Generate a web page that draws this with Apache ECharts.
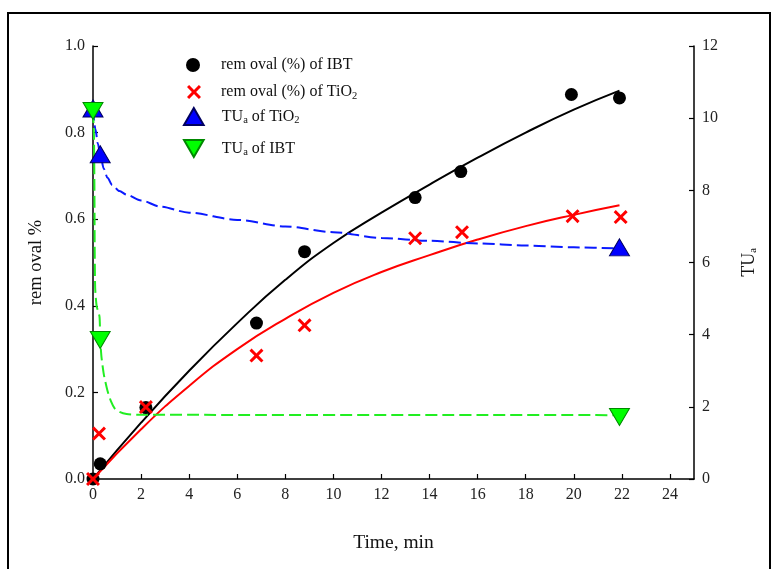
<!DOCTYPE html>
<html><head><meta charset="utf-8">
<script src="https://cdn.jsdelivr.net/npm/echarts@6/dist/echarts.min.js"></script>
<style>html,body{margin:0;padding:0;background:#fff}#c{width:772px;height:569px}</style>
</head><body><div id="c"></div>
<script>
// measured points
const ibtTime = [0, 0.3, 2.2, 6.8, 8.8, 13.4, 15.3, 19.9, 21.9];
const ibtRemoval = [0, 0.035, 0.165, 0.36, 0.525, 0.65, 0.71, 0.888, 0.88];
const tioTime = [0, 0.25, 2.2, 6.8, 8.8, 13.4, 15.35, 19.95, 21.95];
const tioRemoval = [0, 0.105, 0.166, 0.285, 0.355, 0.556, 0.57, 0.607, 0.605];
const tuTime = [0, 0.3, 21.9];
const tuTiO2 = [10.27, 9.0, 6.42];
const tuIBT = [10.2, 3.85, 1.72];
// fitted curves
const fitIbtX = [0, 2, 4, 6, 8, 10, 12, 14, 16, 18, 20, 21.9];
const fitIbtY = [0, 0.13, 0.25, 0.36, 0.46, 0.545, 0.615, 0.68, 0.742, 0.80, 0.853, 0.897];
const fitTioX = [0, 2, 4, 6, 8, 10, 12, 14, 16, 18, 20, 21.9];
const fitTioY = [0, 0.115, 0.215, 0.30, 0.37, 0.43, 0.478, 0.517, 0.553, 0.584, 0.61, 0.632];
const fitTuTiO2X = [0, 0.1, 0.2, 0.3, 0.45, 0.6, 0.8, 1.1, 1.4, 2, 2.8, 4, 6, 8, 10, 12, 14, 16, 18, 20, 21.9];
const fitTuTiO2Y = [10.27, 9.7, 9.3, 9.0, 8.6, 8.35, 8.15, 7.98, 7.88, 7.72, 7.55, 7.38, 7.18, 7.0, 6.84, 6.68, 6.6, 6.53, 6.47, 6.42, 6.39];
const fitTuIbtX = [0, 0.04, 0.06, 0.07, 0.09, 0.15, 0.27, 0.3, 0.35, 0.45, 0.6, 0.75, 0.9, 1.1, 1.4, 2, 21.9];
const fitTuIbtY = [10.2, 9.5, 8.0, 6.5, 5.3, 4.8, 4.5, 3.9, 3.4, 2.9, 2.45, 2.15, 1.96, 1.86, 1.8, 1.78, 1.77];
const xTickLabels = ['0','2','4','6','8','10','12','14','16','18','20','22','24'];

const zip = (a, b) => a.map((v, i) => [v, b[i]]);
const FF = '"Liberation Serif", "Times New Roman", serif';
const SYM_X = 'path://M0,1.5L1.5,0L5,3.5L8.5,0L10,1.5L6.5,5L10,8.5L8.5,10L5,6.5L1.5,10L0,8.5L3.5,5Z';
const SYM_UP = 'path://M5,0L10,8.66L0,8.66Z';
const SYM_DN = 'path://M0,0L10,0L5,8.66Z';
const subStyle = {fontFamily: FF, fontSize: 10.5, padding: [8, 0, 0, 0], color: '#111'};
const mainTxt = {fontFamily: FF, fontSize: 16, color: '#111'};

function mkLegend(name, icon, left, top, w, h, sp, label) {
  return {
    data: [{name: name, icon: icon}], left: left, top: top, orient: 'vertical', padding: 0,
    itemWidth: w, itemHeight: h, selectedMode: false,
    formatter: () => label,
    textStyle: Object.assign({}, mainTxt, {rich: {sp: {width: sp, fontFamily: FF, fontSize: 16}, s: subStyle, t: mainTxt}})
  };
}

const chart = echarts.init(document.getElementById('c'), null, {renderer: 'canvas'});
const axisCommon = {
  axisLine: {show: true, lineStyle: {color: '#000', width: 1.5}},
  axisTick: {show: true, inside: true, length: 5, lineStyle: {color: '#000', width: 1.2}},
  splitLine: {show: false},
  axisLabel: {fontFamily: FF, fontSize: 16, color: '#222', margin: 8}
};
chart.setOption({
  animation: false,
  backgroundColor: '#fff',
  graphic: [{type: 'rect', silent: true, shape: {x: 8, y: 13, width: 762, height: 600},
    style: {fill: null, stroke: '#000', lineWidth: 2}}],
  grid: {left: 93, right: 78, top: 46, bottom: 90},
  legend: [
    mkLegend('ibt', 'circle', 186, 57, 14, 14, 16, '{sp|}{t|rem oval (%) of IBT}'),
    mkLegend('tio', SYM_X, 187, 84, 14, 14, 15, '{sp|}{t|rem oval (%) of TiO}{s|2}'),
    mkLegend('tuTio', SYM_UP, 183, 107, 20, 17, 13, '{sp|}{t|TU}{s|a}{t| of TiO}{s|2}'),
    mkLegend('tuIbt', SYM_DN, 183, 139, 20, 17, 13, '{sp|}{t|TU}{s|a}{t| of IBT}')
  ],
  xAxis: Object.assign({}, axisCommon, {
    type: 'value', min: 0, max: 25, interval: 2,
    axisLabel: Object.assign({}, axisCommon.axisLabel, {showMaxLabel: false,
      formatter: v => { const i = Math.round(v / 2); return (v % 2 === 0 && xTickLabels[i] !== undefined) ? xTickLabels[i] : ''; }}),
    name: 'Time, min', nameLocation: 'middle', nameGap: 54,
    nameTextStyle: {fontFamily: FF, fontSize: 19.5, color: '#111'}
  }),
  yAxis: [
    Object.assign({}, axisCommon, {
      type: 'value', min: 0, max: 1, interval: 0.2, position: 'left',
      axisLabel: Object.assign({}, axisCommon.axisLabel, {formatter: v => v.toFixed(1)}),
      name: 'rem oval %', nameLocation: 'middle', nameRotate: 90, nameGap: 47,
      nameTextStyle: {fontFamily: FF, fontSize: 18.5, color: '#111'}
    }),
    Object.assign({}, axisCommon, {
      type: 'value', min: 0, max: 12, interval: 2, position: 'right',
      name: 'TU{s|a}', nameLocation: 'middle', nameRotate: 90, nameGap: 46,
      nameTextStyle: {fontFamily: FF, fontSize: 18, color: '#111',
        rich: {s: {fontFamily: FF, fontSize: 10.5, padding: [8, 0, 0, 0], color: '#111'}}}
    })
  ],
  series: [
    {type: 'line', data: zip(fitIbtX, fitIbtY), smooth: 0.5, showSymbol: false, z: 2,
      lineStyle: {color: '#000', width: 2}},
    {type: 'line', data: zip(fitTioX, fitTioY), smooth: 0.5, showSymbol: false, z: 2,
      lineStyle: {color: '#ff0000', width: 2}},
    {type: 'line', yAxisIndex: 1, data: zip(fitTuTiO2X, fitTuTiO2Y), smooth: 0.3, smoothMonotone: 'x', showSymbol: false, z: 2,
      lineStyle: {color: '#0a1aff', width: 2, type: [12, 5]}},
    {type: 'line', yAxisIndex: 1, data: zip(fitTuIbtX, fitTuIbtY), smooth: 0.2, showSymbol: false, z: 2,
      lineStyle: {color: '#22ee22', width: 2, type: [12, 5]}},
    {name: 'ibt', type: 'scatter', data: zip(ibtTime, ibtRemoval), symbol: 'circle', symbolSize: 13, clip: false, z: 3,
      itemStyle: {color: '#000', opacity: 1}},
    {name: 'tio', type: 'scatter', data: zip(tioTime, tioRemoval), symbol: SYM_X, symbolSize: 14, clip: false, z: 4,
      itemStyle: {color: '#ff0000', opacity: 1}},
    {name: 'tuTio', type: 'scatter', yAxisIndex: 1, data: zip(tuTime, tuTiO2), symbol: SYM_UP, symbolSize: [20, 17], clip: false, z: 4,
      itemStyle: {color: '#0000ff', borderColor: '#000060', borderWidth: 1, opacity: 1}},
    {name: 'tuIbt', type: 'scatter', yAxisIndex: 1, data: zip(tuTime, tuIBT), symbol: SYM_DN, symbolSize: [20, 17], clip: false, z: 5,
      itemStyle: {color: '#00ff00', borderColor: '#008800', borderWidth: 1, opacity: 1}}
  ]
});
</script></body></html>
